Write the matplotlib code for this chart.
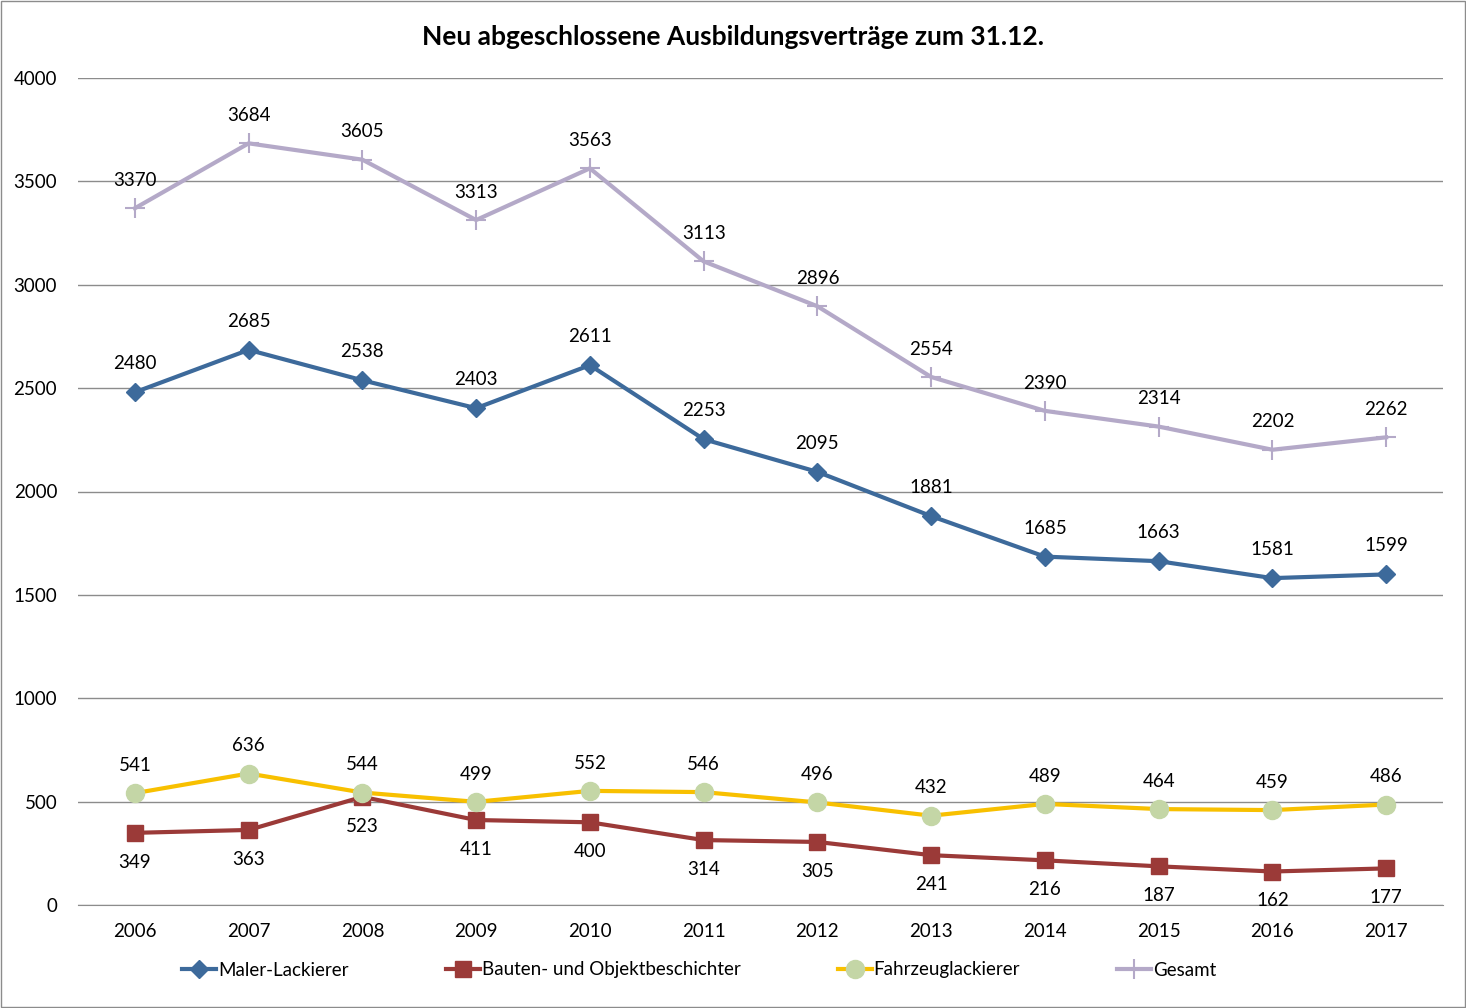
import numpy as np
import matplotlib.pyplot as plt
from matplotlib.patches import Rectangle

plt.rcParams['font.family'] = ['Lato', 'DejaVu Sans']

years = ['2006', '2007', '2008', '2009', '2010', '2011', '2012', '2013', '2014', '2015', '2016', '2017']
maler = [2480, 2685, 2538, 2403, 2611, 2253, 2095, 1881, 1685, 1663, 1581, 1599]
bauten = [349, 363, 523, 411, 400, 314, 305, 241, 216, 187, 162, 177]
fahrzeug = [541, 636, 544, 499, 552, 546, 496, 432, 489, 464, 459, 486]
gesamt = [3370, 3684, 3605, 3313, 3563, 3113, 2896, 2554, 2390, 2314, 2202, 2262]

x = np.arange(len(years))

fig = plt.figure(figsize=(14.66, 10.08), dpi=100)
ax = fig.add_axes([78/1466, 1-905/1008, (1443-78)/1466, (905-78)/1008])

# frame round the whole picture
fig.patches.append(Rectangle((0.001, 0.001), 0.998, 0.998, transform=fig.transFigure,
                             fill=False, edgecolor='#8c8c8c', linewidth=1))

ax.plot(x, maler, color='#3d6a9b', lw=3, marker='D', ms=9, label='Maler-Lackierer')
ax.plot(x, bauten, color='#9b3a38', lw=3, marker='s', ms=12, label='Bauten- und Objektbeschichter')
ax.plot(x, fahrzeug, color='#f8c000', lw=3, marker='o', ms=13, mfc='#c4d6a6', mec='#c4d6a6',
        label='Fahrzeuglackierer')
ax.plot(x, gesamt, color='#b4a9c8', lw=3, marker='+', ms=14, mew=1.5, label='Gesamt')

def labels(vals, dy):
    for xi, v in zip(x, vals):
        ax.annotate(str(v), (xi, v), xytext=(0, dy), textcoords='offset points',
                    ha='center', va='center', fontsize=13.5)

labels(gesamt, 20)
labels(maler, 20.5)
labels(fahrzeug, 20)
labels(bauten, -21)

ax.set_xlim(-0.5, len(years) - 0.5)
ax.set_ylim(0, 4000)
ax.set_yticks(range(0, 4001, 500))
ax.set_xticks(x)
ax.set_xticklabels(years)
ax.tick_params(axis='both', labelsize=13.5, length=0)
ax.tick_params(axis='y', pad=15)
ax.tick_params(axis='x', pad=13)
ax.yaxis.grid(True, color='#8c8c8c', lw=1)
ax.set_axisbelow(True)
for s in ['top', 'right', 'left']:
    ax.spines[s].set_visible(False)
ax.spines['bottom'].set_color('#8c8c8c')

fig.text(0.5, 1-37/1008, 'Neu abgeschlossene Ausbildungsverträge zum 31.12.',
         ha='center', va='center', fontsize=19, fontweight='bold')

fig.legend(loc='center', bbox_to_anchor=(0.477, 1-970/1008), ncol=4, frameon=False,
           fontsize=13.5, columnspacing=5.2, handlelength=1.8, handletextpad=0.1)

fig.savefig('out.png', dpi=100)
